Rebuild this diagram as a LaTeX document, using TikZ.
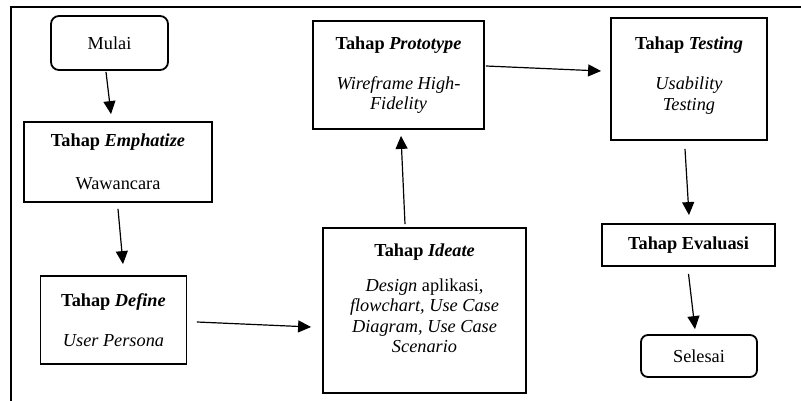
\documentclass[tikz,border=0pt]{standalone}
\usepackage{fontspec}
\setmainfont{Liberation Serif}
\usetikzlibrary{arrows.meta}
\begin{document}
\begin{tikzpicture}[x=1pt,y=-1pt,
    txt/.style={font=\fontsize{18.3}{20.5}\selectfont,align=center,inner sep=0pt},
    stepbox/.style={txt,draw,line width=1.8pt,rectangle},
    termbox/.style={stepbox,rounded corners=8pt},
    arr/.style={line width=1.2pt,-{Triangle[length=13pt,width=12pt]}}]
                \useasboundingbox (0,0) rectangle (801,401);
                \draw[line width=1.5pt] (11,401) -- (11,7) -- (801,7);
                \node[termbox,minimum width=117pt,minimum height=54pt] (mulai) at (109.5,43) {Mulai};
                \node[stepbox,minimum width=188pt,minimum height=80pt] (emph) at (118,162)
                    {\textbf{Tahap \textit{Emphatize}}\\[22pt]Wawancara};
                \node[stepbox,minimum width=146pt,minimum height=88pt] (define) at (113.5,320)
                    {\textbf{Tahap \textit{Define}}\\[20pt]\textit{User Persona}};
                \node[stepbox,minimum width=203pt,minimum height=165pt] (ideate) at (424.5,310.5)
                    {\textbf{Tahap \textit{Ideate}}\\[14pt]\textit{Design} aplikasi,\\\textit{flowchart, Use Case}\\\textit{Diagram, Use Case}\\\textit{Scenario}\\[3.5pt]\mbox{}};
                \node[stepbox,minimum width=171pt,minimum height=108pt] (proto) at (398.5,75)
                    {\textbf{Tahap \textit{Prototype}}\\[19.5pt]\textit{Wireframe High-}\\\textit{Fidelity}};
                \node[stepbox,minimum width=156pt,minimum height=122pt] (testing) at (689,79)
                    {\textbf{Tahap \textit{Testing}}\\[20pt]\textit{Usability}\\\textit{Testing}\\[-9.5pt]\mbox{}};
                \node[stepbox,minimum width=173pt,minimum height=42pt] (evaluasi) at (688.5,245)
                    {\textbf{Tahap Evaluasi}};
                \node[termbox,rounded corners=7pt,minimum width=116pt,minimum height=42pt] (selesai) at (699,356) {Selesai};
                \draw[arr] ([xshift=-3.5pt,yshift=-1pt]mulai.south) -- ([xshift=-7pt,yshift=7pt]emph.north);
                \draw[arr] ([yshift=-6pt]emph.south) -- ([xshift=9.5pt,yshift=11pt]define.north);
                \draw[arr] ([xshift=9.5pt,yshift=-2pt]define.east) -- ([xshift=-11pt,yshift=-16.5pt]ideate.west);
                \draw[arr] ([xshift=-19.5pt,yshift=3pt]ideate.north) -- ([xshift=2.5pt,yshift=-6pt]proto.south);
                \draw[arr] ([xshift=1pt,yshift=9pt]proto.east) -- ([xshift=-9pt,yshift=8pt]testing.west);
                \draw[arr] ([xshift=-4pt,yshift=-8pt]testing.south) -- ([xshift=0.5pt,yshift=8pt]evaluasi.north);
                \draw[arr] ([yshift=-7pt]evaluasi.south) -- ([xshift=-4pt,yshift=5pt]selesai.north);
            \end{tikzpicture}
\end{document}
